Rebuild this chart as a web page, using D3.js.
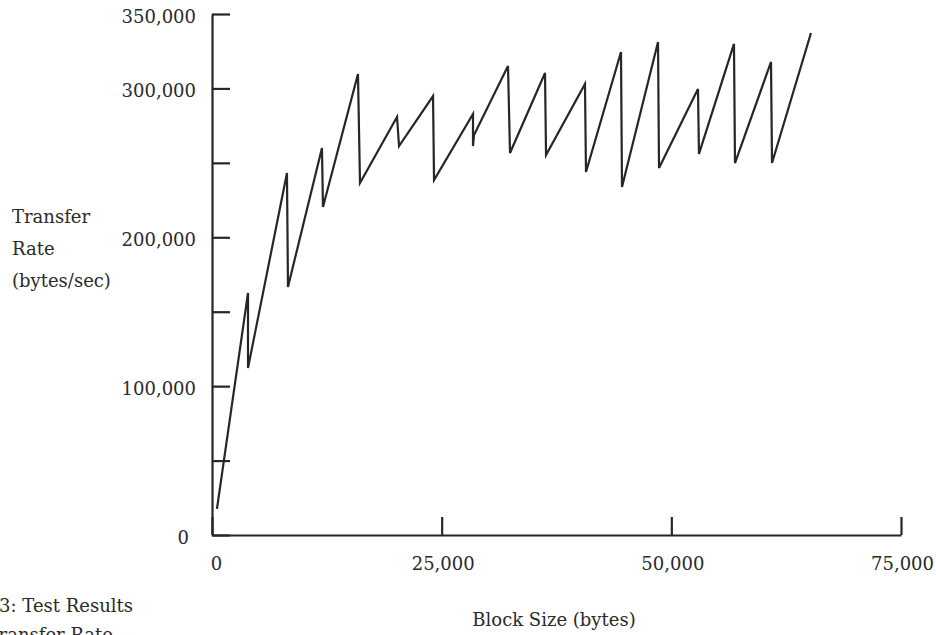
<!DOCTYPE html>
<html>
<head>
<meta charset="utf-8">
<script src="https://cdn.jsdelivr.net/npm/d3@7"></script>
<style>
  body { margin: 0; background: #fff; }
  svg text { font-family: "DejaVu Serif", serif; fill: #2a2a2a; }
</style>
</head>
<body>
<div class="chart"></div>
<script>
const blockSize = [540, 3920, 3920, 8160, 8270, 11970, 12080, 15890, 16110, 20140, 20360,
  24060, 24170, 28410, 28410, 28520, 32220, 32440, 36250, 36360, 40600, 40710,
  44520, 44630, 48550, 48660, 52900, 53010, 56820, 56930, 60850, 60960, 65200]
const transferRate = [17500, 162600, 112200, 243200, 166600, 260000, 220400, 309700, 236500, 280800, 261300,
  294900, 238500, 282800, 261300, 268700, 315100, 256600, 310400, 255300, 303000, 243900,
  324500, 233800, 331200, 246600, 299600, 256000, 329900, 249900, 317800, 249900, 337200]

const yTicks = [0, 50000, 100000, 150000, 200000, 250000, 300000, 350000]
const yLabelled = [0, 100000, 200000, 300000, 350000]
const xTicks = [0, 25000, 50000, 75000]

const yTitle = ["Transfer", "Rate", "(bytes/sec)"]
const xTitle = "Block Size (bytes)"
const caption = ["Figure 3: Test Results", "Transfer Rate"]

const width = 936
const height = 635
const ink = "#262626"

const svg = d3.select(".chart")
  .append("svg")
  .attr("width", width)
  .attr("height", height)

const x = d3.scaleLinear().domain([0, 75000]).range([212, 901])
const y = d3.scaleLinear().domain([0, 350000]).range([535, 14])
const fmt = d3.format(",")

// y axis, ticks point inward
const yAxis = svg.append("g")
  .attr("transform", `translate(${x(0)},0)`)
  .call(d3.axisLeft(y)
    .tickValues(yTicks)
    .tickSizeInner(-18)
    .tickSizeOuter(0)
    .tickPadding(17)
    .tickFormat(d => yLabelled.includes(d) ? fmt(d) : ""))

yAxis.selectAll("text")
  .attr("font-size", 18)
  .attr("font-family", "DejaVu Serif")
  .attr("dy", "0.45em")
  .attr("x", d => d === 0 ? -23 : -16)

// x axis, ticks point up
const xAxis = svg.append("g")
  .attr("transform", `translate(0,${y(0)})`)
  .call(d3.axisBottom(x)
    .tickValues(xTicks)
    .tickSizeInner(-18)
    .tickSizeOuter(0)
    .tickPadding(22)
    .tickFormat(fmt))

xAxis.selectAll("text")
  .attr("font-size", 18)
  .attr("font-family", "DejaVu Serif")
  .attr("dx", d => d === 0 ? 4 : 1)

svg.selectAll(".domain, .tick line")
  .attr("stroke", ink)
  .attr("stroke-width", 2.2)

// the measured curve
const line = d3.line()
  .x((d, i) => x(blockSize[i]))
  .y(d => y(d))

svg.append("path")
  .datum(transferRate)
  .attr("d", line)
  .attr("fill", "none")
  .attr("stroke", ink)
  .attr("stroke-width", 2.2)
  .attr("stroke-linejoin", "miter")

// axis titles
svg.append("g")
  .selectAll("text")
  .data(yTitle)
  .join("text")
    .attr("x", 12)
    .attr("y", (d, i) => 223 + i * 32)
    .attr("font-size", 18)
    .text(d => d)

svg.append("text")
  .attr("x", 554)
  .attr("y", 626)
  .attr("text-anchor", "middle")
  .attr("font-size", 18)
  .text(xTitle)

// caption, cut by the page edge as in the scan
svg.append("g")
  .selectAll("text")
  .data(caption)
  .join("text")
    .attr("x", (d, i) => i === 0 ? 133 : 113)
    .attr("y", (d, i) => 612 + i * 29)
    .attr("text-anchor", "end")
    .attr("font-size", 18)
    .text(d => d)
</script>
</body>
</html>
